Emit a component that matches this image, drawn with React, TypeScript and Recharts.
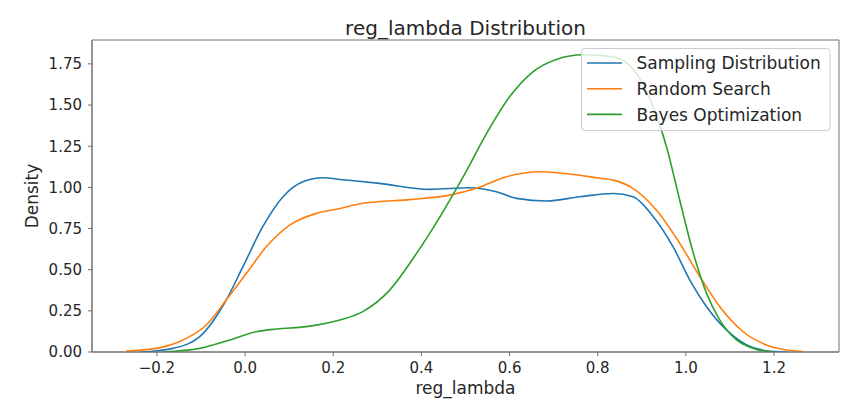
import React from 'react';
import { LineChart, Line, XAxis, YAxis, ReferenceArea } from 'recharts';

const samplingX = [-0.236, -0.2, -0.164, -0.103, -0.047, -0.005, 0.04, 0.086, 0.131, 0.177, 0.215, 0.305, 0.419, 0.51, 0.57, 0.616, 0.684, 0.759, 0.835, 0.88, 0.926, 0.971, 1.009, 1.047, 1.092, 1.138, 1.183, 1.229];
const samplingY = [0.0, 0.008, 0.022, 0.093, 0.296, 0.518, 0.761, 0.943, 1.034, 1.058, 1.048, 1.024, 0.988, 0.998, 0.973, 0.933, 0.917, 0.943, 0.963, 0.943, 0.822, 0.639, 0.437, 0.275, 0.134, 0.043, 0.008, 0.0];

const randomX = [-0.27, -0.202, -0.141, -0.088, -0.043, 0.003, 0.048, 0.101, 0.162, 0.215, 0.267, 0.381, 0.464, 0.525, 0.593, 0.669, 0.737, 0.805, 0.835, 0.88, 0.933, 0.986, 1.032, 1.077, 1.13, 1.183, 1.229, 1.266];
const randomY = [0.006, 0.022, 0.073, 0.164, 0.316, 0.478, 0.639, 0.771, 0.842, 0.872, 0.903, 0.927, 0.953, 0.994, 1.065, 1.095, 1.081, 1.055, 1.044, 0.994, 0.862, 0.66, 0.457, 0.275, 0.123, 0.043, 0.012, 0.002];

const bayesX = [-0.187, -0.103, -0.035, 0.025, 0.071, 0.139, 0.215, 0.267, 0.328, 0.389, 0.442, 0.494, 0.548, 0.6, 0.653, 0.706, 0.767, 0.835, 0.888, 0.926, 0.956, 0.986, 1.017, 1.047, 1.077, 1.115, 1.16, 1.198];
const bayesY = [0.0, 0.022, 0.073, 0.123, 0.14, 0.154, 0.194, 0.245, 0.376, 0.599, 0.821, 1.06, 1.328, 1.55, 1.702, 1.777, 1.805, 1.793, 1.692, 1.489, 1.247, 0.923, 0.599, 0.356, 0.194, 0.073, 0.016, 0.0];

const xTicks = [-0.2, 0.0, 0.2, 0.4, 0.6, 0.8, 1.0, 1.2];
const yTicks = [0.0, 0.25, 0.5, 0.75, 1.0, 1.25, 1.5, 1.75];
const xDomain = [-0.3474, 1.3474];
const yDomain = [0, 1.895];

const seriesNames = ['Sampling Distribution', 'Random Search', 'Bayes Optimization'];
const seriesColors = ['#1f77b4', '#ff7f0e', '#2ca02c'];

const toPoints = (xs: number[], ys: number[]) => xs.map((x, i) => ({ x, y: ys[i] }));
const samplingData = toPoints(samplingX, samplingY);
const randomData = toPoints(randomX, randomY);
const bayesData = toPoints(bayesX, bayesY);

const FONT = '"DejaVu Sans", sans-serif';
const TEXT = '#262626';
const SPINE = '#707070';

const fmtX = (v: number) => (v < 0 ? '\u2212' + Math.abs(v).toFixed(1) : v.toFixed(1));
const fmtY = (v: number) => v.toFixed(2);

export default function App() {
  return (
    <div style={{ position: 'absolute', left: 0, top: 0, width: 868, height: 411, background: '#fff' }}>
      <LineChart width={868} height={411} margin={{ top: 40, right: 29, bottom: 0, left: 0 }}>
        <XAxis
          dataKey="x"
          type="number"
          domain={xDomain}
          ticks={xTicks}
          tickFormatter={fmtX}
          allowDataOverflow
          height={59}
          stroke={SPINE}
          tickSize={4}
          tickMargin={6}
          tick={{ fill: TEXT, fontSize: 15, fontFamily: FONT }}
          label={{ value: 'reg_lambda', position: 'insideBottom', offset: 17, fill: TEXT, fontSize: 17, fontFamily: FONT }}
        />
        <YAxis
          type="number"
          domain={yDomain}
          ticks={yTicks}
          tickFormatter={fmtY}
          allowDataOverflow
          width={92}
          stroke={SPINE}
          tickSize={4}
          tickMargin={6}
          tick={{ fill: TEXT, fontSize: 15, fontFamily: FONT }}
          label={{ value: 'Density', angle: -90, position: 'insideLeft', offset: 32, fill: TEXT, fontSize: 17, fontFamily: FONT, style: { textAnchor: 'middle' } }}
        />
        <ReferenceArea
          x1={xDomain[0]}
          x2={xDomain[1]}
          y1={yDomain[0]}
          y2={yDomain[1]}
          fill="none"
          fillOpacity={0}
          stroke={SPINE}
          strokeWidth={1}
          ifOverflow="visible"
        />
        <Line data={samplingData} dataKey="y" type="monotone" stroke={seriesColors[0]} strokeWidth={1.6} dot={false} isAnimationActive={false} />
        <Line data={randomData} dataKey="y" type="monotone" stroke={seriesColors[1]} strokeWidth={1.6} dot={false} isAnimationActive={false} />
        <Line data={bayesData} dataKey="y" type="monotone" stroke={seriesColors[2]} strokeWidth={1.6} dot={false} isAnimationActive={false} />
      </LineChart>
      <svg width={868} height={411} style={{ position: 'absolute', left: 0, top: 0, pointerEvents: 'none' }}>
        <text x={465.5} y={35} textAnchor="middle" fill={TEXT} fontSize={20} fontFamily={FONT}>reg_lambda Distribution</text>
        <rect x={581.5} y={48.5} width={248.5} height={82} rx={3} fill="rgba(255,255,255,0.8)" stroke="#cccccc" />
        {seriesNames.map((name, i) => (
          <g key={name}>
            <line x1={587} x2={622} y1={63 + i * 25.7} y2={63 + i * 25.7} stroke={seriesColors[i]} strokeWidth={1.6} />
            <text x={636.5} y={63 + i * 25.7} dy="0.36em" fill={TEXT} fontSize={17} fontFamily={FONT}>{name}</text>
          </g>
        ))}
      </svg>
    </div>
  );
}
